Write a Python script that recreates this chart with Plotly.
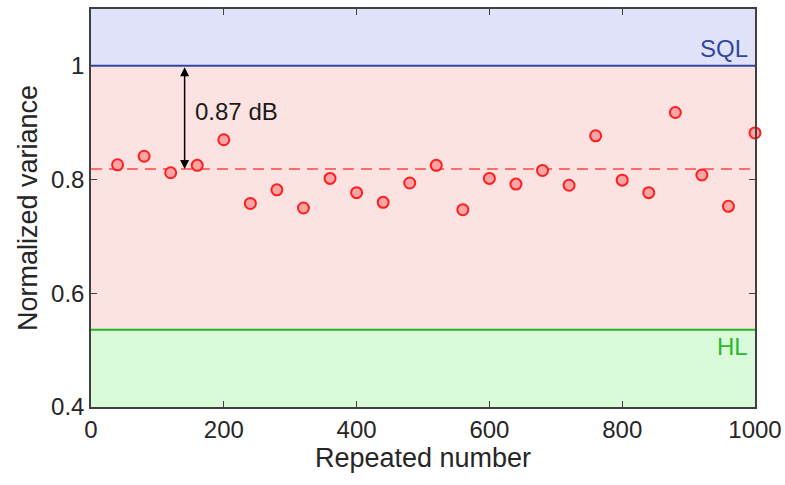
import plotly.graph_objects as go

# Repeated measurement index and normalized variance values
repeats = [40, 80, 120, 160, 200, 240, 280, 320, 360, 400, 440, 480, 520,
           560, 600, 640, 680, 720, 760, 800, 840, 880, 920, 960, 1000]
variance = [0.826, 0.841, 0.812, 0.825, 0.870, 0.758, 0.782, 0.750, 0.802,
            0.777, 0.760, 0.794, 0.825, 0.747, 0.802, 0.792, 0.816, 0.790,
            0.877, 0.799, 0.777, 0.918, 0.808, 0.753, 0.882]

sql_level = 1.0
hl_level = 0.536
mean_level = 0.8185      # 0.87 dB below SQL
arrow_x = 141
x_range = [0, 1000]
y_range = [0.4, 1.1]
x_ticks = [0, 200, 400, 600, 800, 1000]
y_ticks = [0.4, 0.6, 0.8, 1.0]
y_tick_text = ["0.4", "0.6", "0.8", "1"]

FONT = "Liberation Sans, Arial, Helvetica, sans-serif"
AXCOL = "#404040"
TXT = "#262626"

fig = go.Figure()

# Shaded regions: above SQL, between HL and SQL, below HL
fig.add_shape(type="rect", xref="x", yref="y", x0=x_range[0], x1=x_range[1],
              y0=sql_level, y1=y_range[1], fillcolor="rgb(224,225,250)",
              line_width=0, layer="below")
fig.add_shape(type="rect", xref="x", yref="y", x0=x_range[0], x1=x_range[1],
              y0=hl_level, y1=sql_level, fillcolor="rgb(253,226,226)",
              line_width=0, layer="below")
fig.add_shape(type="rect", xref="x", yref="y", x0=x_range[0], x1=x_range[1],
              y0=y_range[0], y1=hl_level, fillcolor="rgb(217,251,217)",
              line_width=0, layer="below")
fig.add_shape(type="line", xref="x", yref="y", x0=x_range[0], x1=x_range[1],
              y0=sql_level, y1=sql_level, line=dict(color="rgb(50,70,160)", width=2))
fig.add_shape(type="line", xref="x", yref="y", x0=x_range[0], x1=x_range[1],
              y0=hl_level, y1=hl_level, line=dict(color="rgb(40,180,40)", width=2))

# Mean level
fig.add_trace(go.Scatter(
    x=x_range, y=[mean_level, mean_level], mode="lines",
    line=dict(color="rgb(255,110,110)", width=2, dash="11px,7px"),
    hoverinfo="skip", showlegend=False))

# Measured points
fig.add_trace(go.Scatter(
    x=repeats, y=variance, mode="markers", cliponaxis=False,
    marker=dict(size=11, color="rgb(255,165,165)",
                line=dict(color="rgb(255,30,30)", width=2)),
    showlegend=False))

# Double arrow showing the squeezing in dB
fig.add_annotation(x=arrow_x, y=mean_level, ax=arrow_x, ay=sql_level,
                   xref="x", yref="y", axref="x", ayref="y", text="",
                   showarrow=True, arrowhead=2, startarrowhead=2,
                   arrowside="end+start", arrowwidth=1.5, arrowsize=1.2,
                   startarrowsize=1.2, arrowcolor="black")
fig.add_annotation(x=arrow_x + 12, y=0.92, xref="x", yref="y", text="0.87 dB",
                   showarrow=False, xanchor="left",
                   font=dict(family=FONT, size=24, color="#1a1a1a"))

fig.add_annotation(x=992, y=1.003, xref="x", yref="y", text="SQL",
                   showarrow=False, xanchor="right", yanchor="bottom",
                   font=dict(family=FONT, size=24, color="rgb(50,70,160)"))
fig.add_annotation(x=992, y=hl_level - 0.003, xref="x", yref="y", text="HL",
                   showarrow=False, xanchor="right", yanchor="top",
                   font=dict(family=FONT, size=24, color="rgb(45,185,45)"))

fig.update_layout(
    width=785, height=485,
    margin=dict(l=91, r=30, t=9, b=78),
    paper_bgcolor="white", plot_bgcolor="white",
    font=dict(family=FONT, color=TXT),
    xaxis=dict(range=x_range, tickvals=x_ticks, ticks="inside", ticklen=6,
               tickcolor=AXCOL, showline=True, linecolor=AXCOL, linewidth=1.5,
               mirror="ticks", showgrid=False, zeroline=False, automargin=False,
               tickfont=dict(size=24, color=TXT),
               title=dict(text="Repeated number", font=dict(size=27, color=TXT),
                          standoff=2)),
    yaxis=dict(range=y_range, tickvals=y_ticks, ticktext=y_tick_text,
               ticks="inside", ticklen=6, tickcolor=AXCOL, showline=True,
               linecolor=AXCOL, linewidth=1.5, mirror="ticks", showgrid=False,
               zeroline=False, automargin=False,
               tickfont=dict(size=24, color=TXT),
               title=dict(text="Normalized variance",
                          font=dict(size=27, color=TXT), standoff=6)),
)

fig.write_html("out.html")
